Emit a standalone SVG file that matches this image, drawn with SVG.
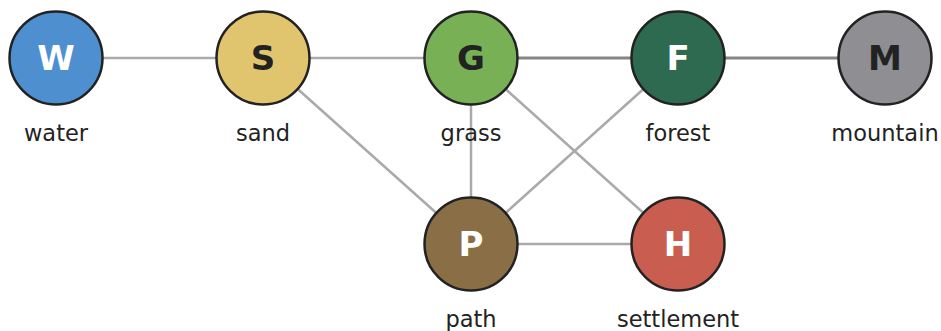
<svg xmlns="http://www.w3.org/2000/svg" width="941" height="331" viewBox="0 0 941 331">
<style>
.e{stroke:#aaaaaa;stroke-width:2.5;fill:none}
.d{stroke:#858585;stroke-width:3;fill:none}
.n{stroke:#222222;stroke-width:2.5}
.l{font-family:"DejaVu Sans",sans-serif;font-weight:bold;font-size:34px;text-anchor:middle}
.t{font-family:"DejaVu Sans",sans-serif;font-size:22.5px;fill:#222222;text-anchor:middle}
.w{fill:#ffffff}
.k{fill:#222222}
</style>
<rect width="941" height="331" fill="#ffffff"/>
<g id="edges">
<line class="e" x1="56" y1="58" x2="263" y2="58"/>
<line class="e" x1="263" y1="58" x2="471" y2="58"/>
<line class="d" x1="471" y1="58" x2="678" y2="58"/>
<line class="d" x1="678" y1="58" x2="885" y2="58"/>
<line class="e" x1="263" y1="58" x2="471" y2="244"/>
<line class="e" x1="471" y1="58" x2="471" y2="244"/>
<line class="e" x1="471" y1="58" x2="678" y2="244"/>
<line class="e" x1="678" y1="58" x2="471" y2="244"/>
<line class="e" x1="471" y1="244" x2="678" y2="244"/>
</g>
<g id="W"><circle class="n" cx="56" cy="58" r="46.5" fill="#4e8fd0"/><text class="l w" x="56" y="70">W</text><text class="t" x="56" y="140.5">water</text></g>
<g id="S"><circle class="n" cx="263" cy="58" r="46.5" fill="#e1c56e"/><text class="l k" x="263" y="70">S</text><text class="t" x="263" y="140.5">sand</text></g>
<g id="G"><circle class="n" cx="471" cy="58" r="46.5" fill="#78b155"/><text class="l k" x="471" y="70">G</text><text class="t" x="471" y="140.5">grass</text></g>
<g id="F"><circle class="n" cx="678" cy="58" r="46.5" fill="#2e6a4f"/><text class="l w" x="678" y="70">F</text><text class="t" x="678" y="140.5">forest</text></g>
<g id="M"><circle class="n" cx="885" cy="58" r="46.5" fill="#8e8e93"/><text class="l k" x="885" y="70">M</text><text class="t" x="885" y="140.5">mountain</text></g>
<g id="P"><circle class="n" cx="471" cy="244" r="46.5" fill="#8a6e46"/><text class="l w" x="471" y="256">P</text><text class="t" x="471" y="326.5">path</text></g>
<g id="H"><circle class="n" cx="678" cy="244" r="46.5" fill="#c95d4f"/><text class="l w" x="678" y="256">H</text><text class="t" x="678" y="326.5">settlement</text></g>
</svg>
